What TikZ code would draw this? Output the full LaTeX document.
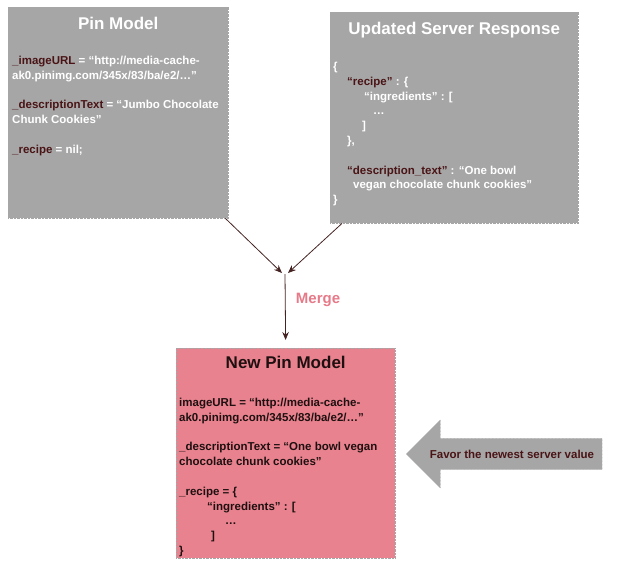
\documentclass[tikz,border=0pt]{standalone}
\usepackage{fontspec}
\setmainfont{Liberation Sans}
\usepackage{xcolor}
\usepackage{tikz}
\usetikzlibrary{shapes,arrows,arrows.meta,positioning,calc}

\definecolor{boxgray}{RGB}{166,166,166}
\definecolor{pinkfill}{RGB}{232,130,142}
\definecolor{keyred}{RGB}{74,20,22}
\definecolor{mergepink}{RGB}{230,122,136}
\definecolor{linkcol}{RGB}{70,35,35}
\definecolor{darktext}{RGB}{30,16,16}
\newcommand{\key}[1]{\textcolor{keyred}{#1}}

\begin{document}
\begin{tikzpicture}[
    x=1pt, y=1pt,
    model/.style={rectangle, draw=gray!70, densely dotted, fill=boxgray, inner sep=0pt, anchor=north west},
    title/.style={font=\fontsize{17}{20}\selectfont\bfseries, text=white},
    body/.style={align=left, anchor=north west, inner sep=0pt, text=white, font=\fontsize{11.5}{14.8}\selectfont\bfseries},
    arrow/.style={->, >={Stealth[length=8pt, width=6.5pt]}, line width=0.8pt, draw=linkcol},
]
\useasboundingbox (0,0) rectangle (617,-565);

% Old model and server response
\node[model, minimum width=220pt, minimum height=211pt] (pin) at (8,-7) {};
\node[title, below=7pt of pin.north] (pintitle) {Pin Model};
\node[body] (pinbody) at ($(pin.north west)+(4,-49)$) {\key{\_imageURL} = “http://media-cache-\\ak0.pinimg.com/345x/83/ba/e2/…”\\[14.8pt]\key{\_descriptionText} = “Jumbo Chocolate\\Chunk Cookies”\\[14.8pt]\key{\_recipe} = nil;};

\node[model, minimum width=248pt, minimum height=211pt] (server) at (330,-12) {};
\node[title, below=7pt of server.north] (servertitle) {Updated Server Response};
\node[body] (serverbody) at ($(server.north west)+(3,-50)$) {\{\\
\hspace*{14pt}\key{“recipe”} : \{\\
\hspace*{31pt}“ingredients” : [\\
\hspace*{40pt}…\\
\hspace*{29pt}]\\
\hspace*{14pt}\},\\[14.8pt]
\hspace*{14pt}\key{“description\_text”} : “One bowl\\
\hspace*{20pt}vegan chocolate chunk cookies”\\
\}};

% Merged model
\node[model, fill=pinkfill, minimum width=219pt, minimum height=210pt] (newpin) at (176,-348) {};
\node[title, text=darktext, below=5pt of newpin.north] (newtitle) {New Pin Model};
\node[body, text=darktext] (newbody) at ($(newpin.north west)+(3,-50)$) {imageURL = “http://media-cache-\\ak0.pinimg.com/345x/83/ba/e2/…”\\[14.8pt]\_descriptionText = “One bowl vegan\\chocolate chunk cookies”\\[14.8pt]\_recipe = \{\\
\hspace*{28pt}“ingredients” : [\\
\hspace*{46pt}…\\
\hspace*{32pt}]\\
\}};

% Merge arrows
\coordinate (merge) at (285,-274);
\draw[arrow] ($(pin.south east)+(-3,0)$) -- ($(merge)+(-3,1)$);
\draw[arrow] ($(server.south west)+(12,0)$) -- ($(merge)+(3,1)$);
\draw[arrow, shorten >=8pt] (merge) -- (newpin.north);
\node[font=\fontsize{15}{18}\selectfont\bfseries, text=mergepink] (mergelabel) at (318,-300) {Merge};

% Favor arrow
\node[single arrow, shape border rotate=180, fill=boxgray, draw=gray!70, densely dotted,
      minimum height=196pt, minimum width=68pt, single arrow head extend=18.5pt,
      text height=8.5pt, text depth=0pt, inner ysep=11.25pt,
      font=\fontsize{11.5}{14}\selectfont\bfseries, text=keyred] (favor) at (512,-454) {Favor the newest server value};

\end{tikzpicture}
\end{document}
